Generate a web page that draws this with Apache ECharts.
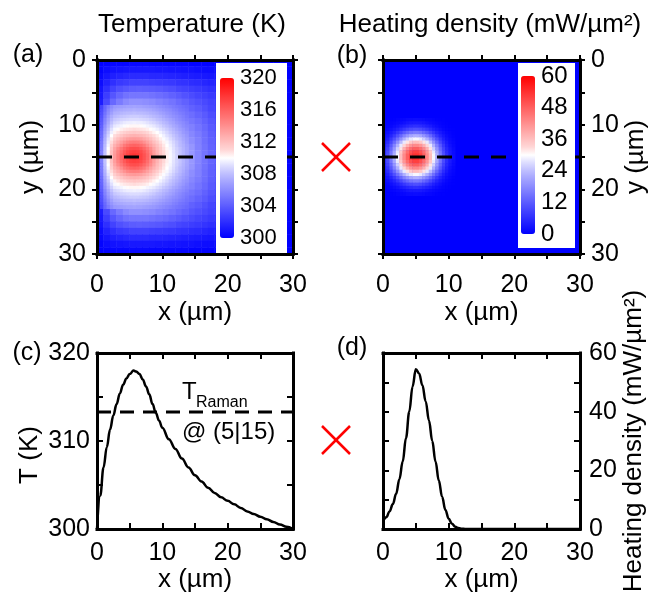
<!DOCTYPE html>
<html><head><meta charset="utf-8">
<script src="https://cdn.jsdelivr.net/npm/echarts@6/dist/echarts.min.js"></script>
<style>html,body{margin:0;padding:0;background:#fff}#c{width:662px;height:595px}</style>
</head><body><div id="c"></div>
<script>
// ---- Temperature field (K), coarse 1 µm cells: row j -> y=j+0.5, col i -> x=i+0.5
const tempRows = [
[300.1,300.2,300.3,300.3,300.3,300.4,300.4,300.4,300.3,300.3,300.3,300.3,300.3,300.3,300.2,300.2,300.2,300.2,300.2,300.1,300.2,300.1,300.1,300.1,300.1,300.1,300.0,300.0,300.0,300.0],
[300.2,300.6,300.8,300.9,301.0,301.1,301.1,301.1,301.1,301.0,301.0,300.9,300.9,300.8,300.8,300.7,300.6,300.6,300.5,300.4,300.5,300.4,300.3,300.3,300.2,300.2,300.1,300.1,300.1,300.0],
[300.4,301.0,301.4,301.6,301.8,301.9,301.9,301.9,301.8,301.8,301.7,301.6,301.5,301.4,301.3,301.2,301.1,301.0,300.9,300.8,300.8,300.7,300.6,300.5,300.4,300.3,300.2,300.2,300.1,300.0],
[300.6,301.5,302.1,302.5,302.7,302.9,302.9,302.9,302.8,302.7,302.6,302.5,302.3,302.2,302.0,301.9,301.7,301.5,301.3,301.2,301.1,300.9,300.8,300.7,300.6,300.4,300.3,300.2,300.1,300.0],
[300.9,302.1,302.9,303.5,303.8,304.0,304.1,304.0,303.9,303.8,303.6,303.4,303.1,302.9,302.7,302.5,302.3,302.1,301.8,301.6,301.4,301.2,301.0,300.8,300.7,300.6,300.4,300.3,300.2,300.1],
[301.1,302.7,303.7,304.4,304.9,305.1,305.1,305.1,304.9,304.7,304.5,304.2,303.9,303.6,303.3,303.0,302.8,302.5,302.2,301.9,301.6,301.4,301.2,301.0,300.8,300.7,300.5,300.4,300.2,300.1],
[301.3,303.2,304.5,305.3,305.9,306.2,306.2,306.1,305.9,305.6,305.3,305.0,304.6,304.2,303.8,303.5,303.2,302.9,302.6,302.2,301.9,301.6,301.4,301.2,301.0,300.8,300.6,300.4,300.2,300.1],
[301.6,303.8,305.3,306.3,307.0,307.3,307.2,306.6,306.1,305.7,305.4,305.2,304.9,304.6,304.2,303.9,303.5,303.1,302.7,302.4,302.1,301.8,301.6,301.3,301.1,300.9,300.7,300.5,300.3,300.1],
[301.8,304.5,306.2,307.4,308.2,308.6,308.4,307.8,307.1,306.6,306.2,305.9,305.5,305.1,304.7,304.3,303.9,303.4,303.0,302.6,302.3,302.0,301.7,301.4,301.2,301.0,300.7,300.5,300.3,300.1],
[302.1,305.1,307.0,308.4,309.3,309.8,309.6,308.8,308.0,307.4,306.9,306.5,306.0,305.6,305.1,304.7,304.2,303.7,303.2,302.9,302.5,302.2,301.8,301.6,301.3,301.0,300.8,300.5,300.3,300.1],
[302.4,305.9,308.2,309.8,310.9,311.4,311.2,310.3,309.2,308.4,307.7,307.2,306.6,306.1,305.5,305.0,304.5,303.9,303.4,303.0,302.7,302.3,302.0,301.6,301.4,301.1,300.8,300.6,300.3,300.1],
[302.8,306.7,309.4,311.2,312.4,313.0,312.8,311.7,310.5,309.4,308.5,307.8,307.2,306.5,305.8,305.3,304.7,304.1,303.6,303.2,302.8,302.4,302.1,301.7,301.4,301.2,300.9,300.6,300.4,300.1],
[303.2,307.8,310.8,312.9,314.4,315.0,314.8,313.6,312.0,310.6,309.5,308.6,307.7,307.0,306.1,305.5,304.8,304.2,303.7,303.3,302.9,302.5,302.1,301.8,301.5,301.2,300.9,300.6,300.4,300.1],
[303.6,308.7,312.1,314.5,316.1,316.8,316.5,315.2,313.4,311.7,310.3,309.2,308.2,307.3,306.4,305.6,304.9,304.3,303.8,303.4,303.0,302.6,302.2,301.8,301.5,301.2,300.9,300.6,300.4,300.1],
[303.8,309.2,312.8,315.2,316.9,317.7,317.4,316.0,314.1,312.2,310.7,309.5,308.5,307.5,306.5,305.7,305.0,304.4,303.9,303.4,303.0,302.6,302.2,301.9,301.6,301.3,301.0,300.7,300.4,300.1],
[303.8,309.2,312.8,315.2,316.9,317.7,317.4,316.0,314.1,312.2,310.7,309.5,308.5,307.5,306.5,305.7,305.0,304.4,303.9,303.4,303.0,302.6,302.2,301.9,301.6,301.3,301.0,300.7,300.4,300.1],
[303.6,308.7,312.1,314.5,316.1,316.8,316.5,315.2,313.4,311.7,310.3,309.2,308.2,307.3,306.4,305.6,304.9,304.3,303.8,303.4,303.0,302.6,302.2,301.8,301.5,301.2,300.9,300.6,300.4,300.1],
[303.2,307.8,310.8,312.9,314.4,315.0,314.8,313.6,312.0,310.6,309.5,308.6,307.7,307.0,306.1,305.5,304.8,304.2,303.7,303.3,302.9,302.5,302.1,301.8,301.5,301.2,300.9,300.6,300.4,300.1],
[302.8,306.7,309.4,311.2,312.4,313.0,312.8,311.7,310.5,309.4,308.5,307.8,307.2,306.5,305.8,305.3,304.7,304.1,303.6,303.2,302.8,302.4,302.1,301.7,301.4,301.2,300.9,300.6,300.4,300.1],
[302.4,305.9,308.2,309.8,310.9,311.4,311.2,310.3,309.2,308.4,307.7,307.2,306.6,306.1,305.5,305.0,304.5,303.9,303.4,303.0,302.7,302.3,302.0,301.6,301.4,301.1,300.8,300.6,300.3,300.1],
[302.1,305.1,307.0,308.4,309.3,309.8,309.6,308.8,308.0,307.4,306.9,306.5,306.0,305.6,305.1,304.7,304.2,303.7,303.2,302.9,302.5,302.2,301.8,301.6,301.3,301.0,300.8,300.5,300.3,300.1],
[301.8,304.5,306.2,307.4,308.2,308.6,308.4,307.8,307.1,306.6,306.2,305.9,305.5,305.1,304.7,304.3,303.9,303.4,303.0,302.6,302.3,302.0,301.7,301.4,301.2,301.0,300.7,300.5,300.3,300.1],
[301.6,303.8,305.3,306.3,307.0,307.3,307.2,306.6,306.1,305.7,305.4,305.2,304.9,304.6,304.2,303.9,303.5,303.1,302.7,302.4,302.1,301.8,301.6,301.3,301.1,300.9,300.7,300.5,300.3,300.1],
[301.3,303.2,304.5,305.3,305.9,306.2,306.2,306.1,305.9,305.6,305.3,305.0,304.6,304.2,303.8,303.5,303.2,302.9,302.6,302.2,301.9,301.6,301.4,301.2,301.0,300.8,300.6,300.4,300.2,300.1],
[301.1,302.7,303.7,304.4,304.9,305.1,305.1,305.1,304.9,304.7,304.5,304.2,303.9,303.6,303.3,303.0,302.8,302.5,302.2,301.9,301.6,301.4,301.2,301.0,300.8,300.7,300.5,300.4,300.2,300.1],
[300.9,302.1,302.9,303.5,303.8,304.0,304.1,304.0,303.9,303.8,303.6,303.4,303.1,302.9,302.7,302.5,302.3,302.1,301.8,301.6,301.4,301.2,301.0,300.8,300.7,300.6,300.4,300.3,300.2,300.1],
[300.6,301.5,302.1,302.5,302.7,302.9,302.9,302.9,302.8,302.7,302.6,302.5,302.3,302.2,302.0,301.9,301.7,301.5,301.3,301.2,301.1,300.9,300.8,300.7,300.6,300.4,300.3,300.2,300.1,300.0],
[300.4,301.0,301.4,301.6,301.8,301.9,301.9,301.9,301.8,301.8,301.7,301.6,301.5,301.4,301.3,301.2,301.1,301.0,300.9,300.8,300.8,300.7,300.6,300.5,300.4,300.3,300.2,300.2,300.1,300.0],
[300.2,300.6,300.8,300.9,301.0,301.1,301.1,301.1,301.1,301.0,301.0,300.9,300.9,300.8,300.8,300.7,300.6,300.6,300.5,300.4,300.5,300.4,300.3,300.3,300.2,300.2,300.1,300.1,300.1,300.0],
[300.1,300.2,300.3,300.3,300.3,300.4,300.4,300.4,300.3,300.3,300.3,300.3,300.3,300.3,300.2,300.2,300.2,300.2,300.2,300.1,300.2,300.1,300.1,300.1,300.1,300.1,300.0,300.0,300.0,300.0]
];

// ---- Temperature field (K), fine 0.5 µm cells near the hot spot:
// first row y = 7.25 µm, first column x = 0.25 µm
const tempFineRowStart = 14;  // index in 0.5 µm grid
const tempFineRows = [
[301.1,303.0,304.4,305.3,306.0,306.5,306.6,306.7,306.8,306.9,306.9,307.0,306.9,306.9,306.8,306.7,306.6,306.5,306.3,306.1,305.9,305.7,305.5,305.3,305.1,304.9,304.7,304.5],
[301.2,303.2,304.6,305.7,306.4,306.9,307.1,307.2,307.3,307.4,307.4,307.5,307.4,307.4,307.3,307.2,307.1,306.9,306.7,306.5,306.3,306.1,305.9,305.6,305.4,305.1,304.9,304.7],
[301.2,303.4,304.9,306.0,306.8,307.4,307.5,307.7,307.8,307.9,307.9,308.0,307.9,307.9,307.8,307.7,307.5,307.4,307.2,306.9,306.7,306.4,306.2,305.9,305.7,305.4,305.2,304.9],
[301.3,303.6,305.2,306.4,307.3,307.8,308.0,308.2,308.3,308.4,308.5,308.5,308.5,308.4,308.3,308.2,308.0,307.8,307.6,307.4,307.1,306.8,306.5,306.2,306.0,305.7,305.4,305.1],
[301.4,303.8,305.6,306.8,307.7,308.3,308.5,308.7,308.8,308.9,309.0,309.0,309.0,308.9,308.8,308.7,308.5,308.3,308.0,307.8,307.5,307.2,306.9,306.6,306.2,305.9,305.6,305.3],
[301.4,304.0,305.8,307.1,308.1,308.8,309.0,309.2,309.4,309.5,309.5,309.6,309.5,309.5,309.4,309.2,309.0,308.8,308.5,308.2,307.9,307.6,307.2,306.9,306.5,306.2,305.9,305.6],
[301.5,304.2,306.2,307.5,308.6,309.3,309.5,309.7,309.9,310.1,310.2,310.2,310.2,310.1,309.9,309.7,309.5,309.3,309.0,308.7,308.3,308.0,307.6,307.2,306.9,306.5,306.1,305.8],
[301.6,304.4,306.5,307.9,309.1,309.8,310.1,310.4,310.6,310.7,310.8,310.9,310.8,310.7,310.6,310.4,310.1,309.8,309.5,309.1,308.8,308.4,308.0,307.6,307.2,306.8,306.4,306.0],
[301.7,304.6,306.8,308.3,309.5,310.3,310.7,311.0,311.3,311.5,311.6,311.7,311.6,311.5,311.3,311.0,310.7,310.3,310.0,309.6,309.2,308.8,308.3,307.9,307.5,307.1,306.6,306.3],
[301.7,304.8,307.1,308.7,310.0,310.9,311.3,311.7,312.1,312.3,312.5,312.6,312.5,312.3,312.1,311.7,311.3,310.9,310.5,310.0,309.6,309.1,308.7,308.2,307.8,307.3,306.9,306.5],
[301.8,305.0,307.4,309.1,310.5,311.4,312.0,312.5,312.9,313.3,313.5,313.6,313.5,313.3,312.9,312.5,312.0,311.4,310.9,310.4,309.9,309.5,309.0,308.5,308.0,307.6,307.1,306.7],
[301.9,305.2,307.6,309.4,310.9,312.0,312.7,313.3,313.9,314.4,314.7,314.8,314.7,314.4,313.9,313.3,312.7,312.0,311.4,310.8,310.3,309.8,309.3,308.8,308.3,307.8,307.3,306.8],
[301.9,305.3,307.8,309.7,311.4,312.6,313.3,314.1,314.9,315.4,315.8,315.9,315.8,315.4,314.9,314.1,313.3,312.6,311.9,311.2,310.6,310.0,309.5,309.0,308.4,307.9,307.5,307.0],
[301.9,305.4,308.0,310.0,311.7,313.1,314.1,314.9,315.7,316.3,316.7,316.8,316.7,316.3,315.7,314.9,314.1,313.1,312.2,311.5,310.8,310.2,309.7,309.1,308.6,308.1,307.6,307.1],
[302.0,305.5,308.1,310.2,312.0,313.4,314.5,315.4,316.3,316.9,317.3,317.4,317.3,316.9,316.3,315.4,314.5,313.4,312.5,311.7,311.0,310.4,309.8,309.2,308.7,308.2,307.7,307.2],
[302.0,305.5,308.2,310.3,312.1,313.6,314.7,315.7,316.6,317.2,317.7,317.9,317.7,317.2,316.6,315.7,314.7,313.6,312.7,311.8,311.1,310.4,309.8,309.3,308.7,308.2,307.7,307.2],
[302.0,305.5,308.2,310.3,312.1,313.6,314.7,315.7,316.6,317.2,317.7,317.9,317.7,317.2,316.6,315.7,314.7,313.6,312.7,311.8,311.1,310.4,309.8,309.3,308.7,308.2,307.7,307.2],
[302.0,305.5,308.1,310.2,312.0,313.4,314.5,315.4,316.3,316.9,317.3,317.4,317.3,316.9,316.3,315.4,314.5,313.4,312.5,311.7,311.0,310.4,309.8,309.2,308.7,308.2,307.7,307.2],
[301.9,305.4,308.0,310.0,311.7,313.1,314.1,314.9,315.7,316.3,316.7,316.8,316.7,316.3,315.7,314.9,314.1,313.1,312.2,311.5,310.8,310.2,309.7,309.1,308.6,308.1,307.6,307.1],
[301.9,305.3,307.8,309.7,311.4,312.6,313.3,314.1,314.9,315.4,315.8,315.9,315.8,315.4,314.9,314.1,313.3,312.6,311.9,311.2,310.6,310.0,309.5,309.0,308.4,307.9,307.5,307.0],
[301.9,305.2,307.6,309.4,310.9,312.0,312.7,313.3,313.9,314.4,314.7,314.8,314.7,314.4,313.9,313.3,312.7,312.0,311.4,310.8,310.3,309.8,309.3,308.8,308.3,307.8,307.3,306.8],
[301.8,305.0,307.4,309.1,310.5,311.4,312.0,312.5,312.9,313.3,313.5,313.6,313.5,313.3,312.9,312.5,312.0,311.4,310.9,310.4,309.9,309.5,309.0,308.5,308.0,307.6,307.1,306.7],
[301.7,304.8,307.1,308.7,310.0,310.9,311.3,311.7,312.1,312.3,312.5,312.6,312.5,312.3,312.1,311.7,311.3,310.9,310.5,310.0,309.6,309.1,308.7,308.2,307.8,307.3,306.9,306.5],
[301.7,304.6,306.8,308.3,309.5,310.3,310.7,311.0,311.3,311.5,311.6,311.7,311.6,311.5,311.3,311.0,310.7,310.3,310.0,309.6,309.2,308.8,308.3,307.9,307.5,307.1,306.6,306.3],
[301.6,304.4,306.5,307.9,309.1,309.8,310.1,310.4,310.6,310.7,310.8,310.9,310.8,310.7,310.6,310.4,310.1,309.8,309.5,309.1,308.8,308.4,308.0,307.6,307.2,306.8,306.4,306.0],
[301.5,304.2,306.2,307.5,308.6,309.3,309.5,309.7,309.9,310.1,310.2,310.2,310.2,310.1,309.9,309.7,309.5,309.3,309.0,308.7,308.3,308.0,307.6,307.2,306.9,306.5,306.1,305.8],
[301.4,304.0,305.8,307.1,308.1,308.8,309.0,309.2,309.4,309.5,309.5,309.6,309.5,309.5,309.4,309.2,309.0,308.8,308.5,308.2,307.9,307.6,307.2,306.9,306.5,306.2,305.9,305.6],
[301.4,303.8,305.6,306.8,307.7,308.3,308.5,308.7,308.8,308.9,309.0,309.0,309.0,308.9,308.8,308.7,308.5,308.3,308.0,307.8,307.5,307.2,306.9,306.6,306.2,305.9,305.6,305.3],
[301.3,303.6,305.2,306.4,307.3,307.8,308.0,308.2,308.3,308.4,308.5,308.5,308.5,308.4,308.3,308.2,308.0,307.8,307.6,307.4,307.1,306.8,306.5,306.2,306.0,305.7,305.4,305.1],
[301.2,303.4,304.9,306.0,306.8,307.4,307.5,307.7,307.8,307.9,307.9,308.0,307.9,307.9,307.8,307.7,307.5,307.4,307.2,306.9,306.7,306.4,306.2,305.9,305.7,305.4,305.2,304.9],
[301.2,303.2,304.6,305.7,306.4,306.9,307.1,307.2,307.3,307.4,307.4,307.5,307.4,307.4,307.3,307.2,307.1,306.9,306.7,306.5,306.3,306.1,305.9,305.6,305.4,305.1,304.9,304.7],
[301.1,303.0,304.4,305.3,306.0,306.5,306.6,306.7,306.8,306.9,306.9,307.0,306.9,306.9,306.8,306.7,306.6,306.5,306.3,306.1,305.9,305.7,305.5,305.3,305.1,304.9,304.7,304.5]
];

// ---- Heating density (mW/µm²), 0.5 µm cells around the spot; elsewhere 0
// first row y = 9.25 µm, first column x = 0.25 µm
const heatRowStart = 18;
const heatRows = [
[0.0,0.1,0.2,0.3,0.6,0.8,1.0,1.3,1.5,1.6,1.6,1.5,1.3,1.0,0.8,0.6,0.3,0.2,0.1,0.0,0.0,0.0],
[0.1,0.3,0.5,0.8,1.2,1.7,2.2,2.8,3.2,3.4,3.4,3.2,2.8,2.2,1.7,1.2,0.8,0.5,0.3,0.1,0.0,0.0],
[0.3,0.6,0.9,1.6,2.3,3.4,4.2,5.1,5.8,6.2,6.2,5.8,5.1,4.2,3.4,2.3,1.6,0.9,0.6,0.3,0.1,0.0],
[0.6,1.0,1.9,3.0,4.2,5.8,7.3,8.7,9.8,10.4,10.4,9.8,8.7,7.3,5.8,4.2,3.0,1.9,1.0,0.6,0.3,0.1],
[0.9,1.9,3.2,4.8,7.0,9.3,11.6,13.5,15.1,15.9,15.9,15.1,13.5,11.6,9.3,7.0,4.8,3.2,1.9,0.9,0.5,0.2],
[1.6,3.0,4.8,7.3,10.4,13.5,16.7,19.2,21.3,22.4,22.4,21.3,19.2,16.7,13.5,10.4,7.3,4.8,3.0,1.6,0.8,0.3],
[2.3,4.2,7.0,10.4,14.3,18.4,22.4,25.7,28.1,29.3,29.3,28.1,25.7,22.4,18.4,14.3,10.4,7.0,4.2,2.3,1.2,0.6],
[3.4,5.8,9.3,13.5,18.4,23.5,28.1,32.0,34.8,36.3,36.3,34.8,32.0,28.1,23.5,18.4,13.5,9.3,5.8,3.4,1.7,0.8],
[4.2,7.3,11.6,16.7,22.4,28.1,33.3,37.9,41.1,42.8,42.8,41.1,37.9,33.3,28.1,22.4,16.7,11.6,7.3,4.2,2.2,1.0],
[5.1,8.7,13.5,19.2,25.7,32.0,37.9,42.8,46.2,48.1,48.1,46.2,42.8,37.9,32.0,25.7,19.2,13.5,8.7,5.1,2.8,1.3],
[5.8,9.8,15.1,21.3,28.1,34.8,41.1,46.2,50.0,52.0,52.0,50.0,46.2,41.1,34.8,28.1,21.3,15.1,9.8,5.8,3.2,1.5],
[6.2,10.4,15.9,22.4,29.3,36.3,42.8,48.1,52.0,54.0,54.0,52.0,48.1,42.8,36.3,29.3,22.4,15.9,10.4,6.2,3.4,1.6],
[6.2,10.4,15.9,22.4,29.3,36.3,42.8,48.1,52.0,54.0,54.0,52.0,48.1,42.8,36.3,29.3,22.4,15.9,10.4,6.2,3.4,1.6],
[5.8,9.8,15.1,21.3,28.1,34.8,41.1,46.2,50.0,52.0,52.0,50.0,46.2,41.1,34.8,28.1,21.3,15.1,9.8,5.8,3.2,1.5],
[5.1,8.7,13.5,19.2,25.7,32.0,37.9,42.8,46.2,48.1,48.1,46.2,42.8,37.9,32.0,25.7,19.2,13.5,8.7,5.1,2.8,1.3],
[4.2,7.3,11.6,16.7,22.4,28.1,33.3,37.9,41.1,42.8,42.8,41.1,37.9,33.3,28.1,22.4,16.7,11.6,7.3,4.2,2.2,1.0],
[3.4,5.8,9.3,13.5,18.4,23.5,28.1,32.0,34.8,36.3,36.3,34.8,32.0,28.1,23.5,18.4,13.5,9.3,5.8,3.4,1.7,0.8],
[2.3,4.2,7.0,10.4,14.3,18.4,22.4,25.7,28.1,29.3,29.3,28.1,25.7,22.4,18.4,14.3,10.4,7.0,4.2,2.3,1.2,0.6],
[1.6,3.0,4.8,7.3,10.4,13.5,16.7,19.2,21.3,22.4,22.4,21.3,19.2,16.7,13.5,10.4,7.3,4.8,3.0,1.6,0.8,0.3],
[0.9,1.9,3.2,4.8,7.0,9.3,11.6,13.5,15.1,15.9,15.9,15.1,13.5,11.6,9.3,7.0,4.8,3.2,1.9,0.9,0.5,0.2],
[0.6,1.0,1.9,3.0,4.2,5.8,7.3,8.7,9.8,10.4,10.4,9.8,8.7,7.3,5.8,4.2,3.0,1.9,1.0,0.6,0.3,0.1],
[0.3,0.6,0.9,1.6,2.3,3.4,4.2,5.1,5.8,6.2,6.2,5.8,5.1,4.2,3.4,2.3,1.6,0.9,0.6,0.3,0.1,0.0],
[0.1,0.3,0.5,0.8,1.2,1.7,2.2,2.8,3.2,3.4,3.4,3.2,2.8,2.2,1.7,1.2,0.8,0.5,0.3,0.1,0.0,0.0],
[0.0,0.1,0.2,0.3,0.6,0.8,1.0,1.3,1.5,1.6,1.6,1.5,1.3,1.0,0.8,0.6,0.3,0.2,0.1,0.0,0.0,0.0]
];

// ---- Line cut at y = 15 µm
const cutY = 15;
const tProfX = [0,0.5,1,1.5,2,2.5,3,3.5,4,4.5,5,5.6,6,6.5,7,7.5,8,8.5,9,9.5,10,11,12,13,14,15,16,17,18,19,20,21,22,23,24,25,26,27,28,29,30];
const tProfT = [300.0,303.8,307.0,309.3,311.3,312.9,314.2,315.4,316.4,317.1,317.6,318.0,317.9,317.6,317.0,316.2,315.3,314.2,313.2,312.3,311.5,310.2,309.1,308.0,307.0,306.1,305.4,304.7,304.1,303.6,303.2,302.8,302.4,302.0,301.7,301.4,301.1,300.8,300.5,300.25,300.0];
const tRaman = 313.3;
const hProfX = [0,0.5,1,1.5,2,2.5,3,3.5,4,4.5,5,5.5,6,6.5,7,7.5,8,8.5,9,9.5,10,10.5,11,11.5,12,12.5,13,15,20,25,30];
const hProfV = [2.5,4,6,8.5,12,17,23,31,40,48.5,54.5,53,49,43.5,37,30,23,16.5,11,6.5,3.5,1.8,0.8,0.3,0.1,0,0,0,0,0,0];

// ---- colour scale stops (blue - white - red), 21 evenly spaced stops
const bwr = ['#0000ff','#1616ff','#2d2dff','#4444ff','#5c5cff','#7474ff','#8c8cff','#a4a4ff','#bebeff','#dcdcff','#ffffff',
             '#ffd7d7','#ffbfbf','#ffa7a7','#ff8f8f','#ff7777','#ff6060','#ff4848','#ff3030','#ff1818','#ff0000'];

const cats30 = Array.from({length: 30}, (_, i) => String(i));
const cats60 = Array.from({length: 60}, (_, i) => String(i));
const tempData = [];
tempRows.forEach((row, j) => row.forEach((v, i) => tempData.push([i, j, v])));
const tempFineData = [];
tempFineRows.forEach((row, j) => row.forEach((v, i) => tempFineData.push([i, tempFineRowStart + j, v])));
const heatData = [];
heatRows.forEach((row, j) => row.forEach((v, i) => heatData.push([i, heatRowStart + j, v])));

const F = '"Liberation Sans", Arial, Helvetica, sans-serif';
const BLK = '#000';

function vAxis(grid, pos, o) {
  const base = {
    type: 'value', gridIndex: grid, position: pos, min: 0, max: 30, interval: 10,
    splitLine: {show: false},
    axisLine: {show: true, onZero: false, lineStyle: {color: BLK, width: 3, cap: 'square'}},
    axisTick: {show: true, inside: false, length: 5, lineStyle: {color: BLK, width: 2}},
    minorTick: {show: true, splitNumber: 2, length: 5, lineStyle: {color: BLK, width: 2}},
    axisLabel: {show: false},
    nameLocation: 'middle',
    nameTextStyle: {fontFamily: F, fontSize: 26, color: BLK},
    z: 5
  };
  return Object.assign(base, o);
}
const lab = (margin, size) => ({show: true, margin: margin, fontFamily: F, fontSize: size || 25, color: BLK});
const tickIn = {show: true, inside: true, length: 6, lineStyle: {color: BLK, width: 2}};
const minorIn = (n) => ({show: true, splitNumber: n, length: 6, lineStyle: {color: BLK, width: 2}});
const hidCat = (grid, data, inverse) => ({type: 'category', gridIndex: grid, data: data, show: false, inverse: !!inverse, boundaryGap: true});
const txt = (x, y, s, size, extra) => Object.assign({type: 'text', x: x, y: y,
  style: {text: s, font: size + 'px ' + F, fill: BLK, textAlign: 'center', textVerticalAlign: 'middle'}}, extra || {});

const option = {
  animation: false,
  backgroundColor: '#fff',
  grid: [
    {left: 97, top: 60, width: 196, height: 194, outerBoundsMode: 'none'},
    {left: 383, top: 60, width: 197, height: 194, outerBoundsMode: 'none', show: true, backgroundColor: '#0000ff', borderWidth: 0},
    {left: 97, top: 353, width: 196, height: 176, outerBoundsMode: 'none'},
    {left: 383, top: 353, width: 197, height: 176, outerBoundsMode: 'none'},
    {left: 233, top: 78, width: 1, height: 160, outerBoundsMode: 'none'},
    {left: 534, top: 76, width: 1, height: 158, outerBoundsMode: 'none'}
  ],
  xAxis: [
    hidCat(0, cats30),                                   // 0
    vAxis(0, 'bottom', {axisLabel: lab(19), name: 'x (µm)', nameGap: 46}), // 1
    vAxis(0, 'top'),                                     // 2
    hidCat(1, cats60),                                   // 3
    vAxis(1, 'bottom', {axisLabel: lab(19), name: 'x (µm)', nameGap: 46}), // 4
    vAxis(1, 'top'),                                     // 5
    vAxis(2, 'bottom', {axisLabel: lab(12), axisTick: tickIn, minorTick: minorIn(2), name: 'x (µm)', nameGap: 38}), // 6
    vAxis(2, 'top', {axisTick: tickIn, minorTick: minorIn(2)}), // 7
    vAxis(3, 'bottom', {axisLabel: lab(12), axisTick: tickIn, minorTick: minorIn(2), name: 'x (µm)', nameGap: 38}), // 8
    vAxis(3, 'top', {axisTick: tickIn, minorTick: minorIn(2)}), // 9
    {type: 'value', gridIndex: 4, show: false, min: 0, max: 1}, // 10
    {type: 'value', gridIndex: 5, show: false, min: 0, max: 1}, // 11
    hidCat(0, cats60)                                    // 12 fine temperature
  ],
  yAxis: [
    hidCat(0, cats30, true),                             // 0
    vAxis(0, 'left', {inverse: true, axisLabel: lab(11), name: 'y (µm)', nameGap: 53, nameRotate: 90}), // 1
    vAxis(0, 'right', {inverse: true}),                  // 2
    hidCat(1, cats60, true),                             // 3
    vAxis(1, 'left', {inverse: true}),                   // 4
    vAxis(1, 'right', {inverse: true, axisLabel: lab(11), name: 'y (µm)', nameGap: 42, nameRotate: 90}), // 5
    vAxis(2, 'left', {min: 300, max: 320, interval: 10, axisLabel: lab(7), axisTick: tickIn, minorTick: minorIn(2)}), // 6
    vAxis(2, 'right', {min: 300, max: 320, interval: 10, axisTick: tickIn, minorTick: minorIn(2)}), // 7
    vAxis(3, 'left', {min: 0, max: 60, interval: 20, axisTick: tickIn, minorTick: minorIn(2)}), // 8
    vAxis(3, 'right', {min: 0, max: 60, interval: 20, axisLabel: lab(9), axisTick: tickIn, minorTick: minorIn(2),
                       name: 'Heating density (mW/µm²)', nameGap: 41, nameRotate: 90}), // 9
    {type: 'value', gridIndex: 4, position: 'right', min: 300, max: 320, interval: 4, splitLine: {show: false},
     axisLine: {show: false}, axisTick: {show: false}, axisLabel: lab(6, 22), z: 30}, // 10
    {type: 'value', gridIndex: 5, position: 'right', min: 0, max: 60, interval: 12, splitLine: {show: false},
     axisLine: {show: false}, axisTick: {show: false}, axisLabel: lab(6, 24), z: 30}, // 11
    hidCat(0, cats60, true)                              // 12 fine temperature
  ],
  visualMap: [
    {type: 'continuous', seriesIndex: [0, 1], min: 300, max: 320, inRange: {color: bwr}, calculable: false, show: true,
     left: 220, top: 78, itemWidth: 14, itemHeight: 160, padding: 0, hoverLink: false, z: 30, orient: 'vertical'},
    {type: 'continuous', seriesIndex: 2, min: 0, max: 60, inRange: {color: bwr}, calculable: false, show: true,
     left: 521, top: 76, itemWidth: 14, itemHeight: 158, padding: 0, hoverLink: false, z: 30, orient: 'vertical'}
  ],
  series: [
    {type: 'heatmap', xAxisIndex: 0, yAxisIndex: 0, data: tempData, emphasis: {disabled: true}, itemStyle: {borderWidth: 0}, z: 2},
    {type: 'heatmap', xAxisIndex: 12, yAxisIndex: 12, data: tempFineData, emphasis: {disabled: true}, itemStyle: {borderWidth: 0}, z: 3},
    {type: 'heatmap', xAxisIndex: 3, yAxisIndex: 3, data: heatData, emphasis: {disabled: true}, itemStyle: {borderWidth: 0}, z: 2},
    {type: 'line', xAxisIndex: 1, yAxisIndex: 1, data: [[0, cutY], [30, cutY]], symbol: 'none', z: 4,
     lineStyle: {color: BLK, width: 3, type: [15, 12]}},
    {type: 'line', xAxisIndex: 4, yAxisIndex: 4, data: [[0, cutY], [30, cutY]], symbol: 'none', z: 4,
     lineStyle: {color: BLK, width: 3, type: [15, 12]}},
    {type: 'line', xAxisIndex: 6, yAxisIndex: 6, data: tProfX.map((x, i) => [x, tProfT[i]]), symbol: 'none',
     smooth: 0.4, smoothMonotone: 'x', lineStyle: {color: BLK, width: 2.5}, z: 3},
    {type: 'line', xAxisIndex: 6, yAxisIndex: 6, data: [[0, tRaman], [30, tRaman]], symbol: 'none', z: 3,
     lineStyle: {color: BLK, width: 3, type: [14, 9]}},
    {type: 'line', xAxisIndex: 8, yAxisIndex: 8, data: hProfX.map((x, i) => [x, hProfV[i]]), symbol: 'none',
     smooth: 0.4, smoothMonotone: 'x', lineStyle: {color: BLK, width: 2.5}, z: 3}
  ],
  graphic: [
    {type: 'rect', shape: {x: 216, y: 63, width: 71, height: 190}, style: {fill: '#fff'}, z: 10},
    {type: 'rect', shape: {x: 518, y: 63, width: 57, height: 185}, style: {fill: '#fff'}, z: 10},
    txt(192, 25, 'Temperature (K)', 26),
    txt(490, 25, 'Heating density (mW/µm²)', 26),
    txt(28, 55, '(a)', 25),
    txt(352, 56, '(b)', 25),
    txt(27, 353, '(c)', 25),
    txt(352, 348, '(d)', 25),
    txt(30, 455, 'T (K)', 26, {rotation: Math.PI / 2}),
    {type: 'text', x: 182, y: 392, style: {text: 'T', font: '24px ' + F, fill: BLK, textAlign: 'left', textVerticalAlign: 'middle'}},
    {type: 'text', x: 196, y: 403, style: {text: 'Raman', font: '16px ' + F, fill: BLK, textAlign: 'left', textVerticalAlign: 'middle'}},
    {type: 'text', x: 182, y: 432, style: {text: '@ (5|15)', font: '24px ' + F, fill: BLK, textAlign: 'left', textVerticalAlign: 'middle'}},
    {type: 'line', shape: {x1: 322, y1: 143, x2: 350, y2: 171}, style: {stroke: '#ff0000', lineWidth: 2.5}},
    {type: 'line', shape: {x1: 350, y1: 143, x2: 322, y2: 171}, style: {stroke: '#ff0000', lineWidth: 2.5}},
    {type: 'line', shape: {x1: 322, y1: 426, x2: 350, y2: 454}, style: {stroke: '#ff0000', lineWidth: 2.5}},
    {type: 'line', shape: {x1: 350, y1: 426, x2: 322, y2: 454}, style: {stroke: '#ff0000', lineWidth: 2.5}}
  ]
};
const chart = echarts.init(document.getElementById('c'), null, {renderer: 'canvas'});
chart.setOption(option);
</script></body></html>
